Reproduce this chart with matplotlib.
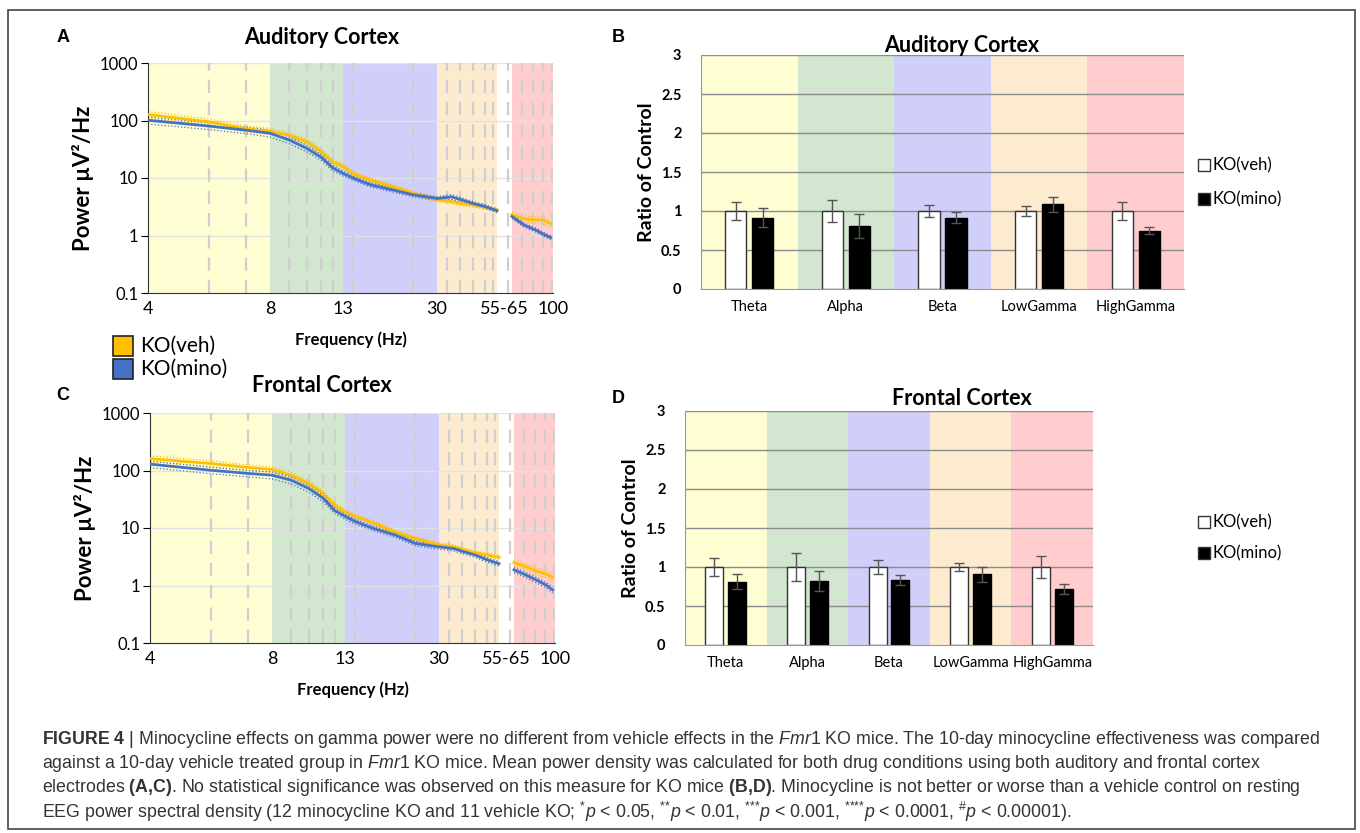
import numpy as np
import matplotlib
matplotlib.use("Agg")
import matplotlib.pyplot as plt
import matplotlib.font_manager as fm
from matplotlib.patches import Rectangle

# spectra (Hz -> power); NaN at 60 Hz = notch gap
freqs = [4, 6, 7.2, 8, 9.3, 10.5, 11.5, 12.3, 13, 14.8, 18, 22, 25.7, 30,
         36, 40, 45, 50, 55, 60, 65, 75, 85, 92, 98]
aud_veh = [127, 95, 72, 65, 56, 43, 29, 19, 16, 12, 9.2, 7.1, 5.4, 4.2,
           3.9, 3.6, 3.4, 3.1, 2.8, np.nan, 2.3, 1.95, 1.87, 1.85, 1.6]
aud_mino = [101, 80, 68, 60, 46, 33, 23, 15, 12, 10, 7.6, 6.2, 5.1, 4.4,
            4.7, 4.2, 3.6, 3.2, 2.7, np.nan, 2.14, 1.53, 1.25, 1.05, 0.92]
fro_veh = [161, 132, 113, 104, 83, 60, 40, 25, 19, 16, 12.4, 8.6, 6.6, 5.1,
           4.7, 4.2, 3.7, 3.4, 3.1, np.nan, 2.5, 2.14, 1.75, 1.6, 1.39]
fro_mino = [129, 101, 89, 83, 68, 49, 33, 20, 16, 13, 9.9, 7.6, 5.4, 4.7,
            4.4, 3.9, 3.4, 2.8, 2.4, np.nan, 1.87, 1.53, 1.22, 1.03, 0.84]
# relative SEM (dotted bounds)
aud_veh_sem = [0.13, 0.12, 0.12, 0.12, 0.12, 0.11, 0.1, 0.1, 0.1, 0.09, 0.08, 0.08, 0.08, 0.08,
               0.08, 0.08, 0.08, 0.07, 0.07, np.nan, 0.1, 0.12, 0.13, 0.13, 0.14]
aud_mino_sem = [0.14, 0.13, 0.13, 0.14, 0.14, 0.13, 0.12, 0.11, 0.1, 0.09, 0.08, 0.08, 0.08, 0.08,
                0.1, 0.09, 0.08, 0.08, 0.07, np.nan, 0.08, 0.08, 0.08, 0.08, 0.08]
fro_veh_sem = [0.12, 0.12, 0.11, 0.11, 0.12, 0.12, 0.11, 0.1, 0.1, 0.09, 0.09, 0.08, 0.08, 0.08,
               0.08, 0.08, 0.08, 0.08, 0.08, np.nan, 0.12, 0.12, 0.13, 0.14, 0.14]
fro_mino_sem = [0.13, 0.13, 0.13, 0.14, 0.14, 0.14, 0.13, 0.12, 0.11, 0.1, 0.09, 0.09, 0.09, 0.09,
                0.09, 0.09, 0.09, 0.09, 0.09, np.nan, 0.1, 0.1, 0.11, 0.11, 0.12]

freq_ticks = [4, 8, 13, 30, 60, 100]
freq_tick_labels = ["4", "8", "13", "30", "55-65", "100"]
freq_bands = [(4, 8), (8, 13), (13, 30), (30, 55), (65, 100)]
grid_freqs = [6, 7.2, 9.3, 10.5, 11.5, 12.3, 14.8, 25.7, 34.2, 39.6, 45, 50, 53.3,
              62.3, 73.5, 83, 91.5, 99.5]

# band ratios
bands = ["Theta", "Alpha", "Beta", "LowGamma", "HighGamma"]
aud_ratio_veh = [1.0, 1.0, 1.0, 1.0, 1.0]
aud_ratio_veh_err = [0.115, 0.14, 0.08, 0.06, 0.115]
aud_ratio_mino = [0.915, 0.81, 0.915, 1.085, 0.75]
aud_ratio_mino_err = [0.125, 0.15, 0.075, 0.1, 0.045]
fro_ratio_veh = [1.0, 1.0, 1.0, 1.0, 1.0]
fro_ratio_veh_err = [0.12, 0.175, 0.09, 0.055, 0.145]
fro_ratio_mino = [0.81, 0.825, 0.833, 0.906, 0.714]
fro_ratio_mino_err = [0.095, 0.13, 0.07, 0.095, 0.065]

band_colors = ["#fffdd2", "#d2e6d0", "#cfcff9", "#fdebcf", "#ffcdcd"]
c_veh = "#ffc000"
c_mino = "#4472c4"

names = {f.name for f in fm.fontManager.ttflist}
cap_font = "Liberation Sans Narrow" if "Liberation Sans Narrow" in names else "Liberation Sans"
cap_size = 12 if cap_font == "Liberation Sans Narrow" else 12.8
plt.rcParams["font.family"] = ["Lato", "DejaVu Sans"]
plt.rcParams["mathtext.fontset"] = "custom"
plt.rcParams["mathtext.rm"] = cap_font
plt.rcParams["mathtext.it"] = cap_font + ":italic"
plt.rcParams["mathtext.bf"] = cap_font + ":bold"

W, H = 1360, 833
fig = plt.figure(figsize=(13.6, 8.33), dpi=100)


def box(l, t, r, b):
    return [l / W, 1 - b / H, (r - l) / W, (b - t) / H]


def ftext(x, y, s, **kw):
    fig.text(x / W, 1 - y / H, s, **kw)


# piecewise frequency axis (Excel-style)
anchor_hz = [4, 8, 13, 30, 55, 65, 100]
anchor_pos = [0, 122, 195, 289, 349, 364, 405]
fwd = lambda f: np.interp(f, anchor_hz, anchor_pos)
inv = lambda p: np.interp(p, anchor_pos, anchor_hz)


def spectrum(ax, veh, veh_sem, mino, mino_sem):
    ax.set_xscale("function", functions=(fwd, inv))
    ax.set_yscale("log")
    ax.set_xlim(4, 100)
    ax.set_ylim(0.1, 1000)
    for (a, b), col in zip(freq_bands, band_colors):
        ax.axvspan(a, b, color=col, lw=0, zorder=0)
    for y in [1, 10, 100, 1000]:
        ax.axhline(y, color="#e2e2e2", lw=1, zorder=1)
    for g in grid_freqs:
        ax.axvline(g, color="#cfcfcf", lw=1.6, ls=(0, (6, 4)), zorder=1)
    f = np.array(freqs)
    for vals, sem, col in [(veh, veh_sem, c_veh), (mino, mino_sem, c_mino)]:
        v = np.array(vals)
        s = np.array(sem)
        ax.plot(f, v * (1 + s), color=col, lw=0.9, ls=":", zorder=2)
        ax.plot(f, v * (1 - s), color=col, lw=0.9, ls=":", zorder=2)
        ax.plot(f, v, color=col, lw=2, zorder=3)
    ax.set_xticks(freq_ticks)
    ax.set_xticklabels(freq_tick_labels)
    ax.minorticks_off()
    ax.set_yticks([0.1, 1, 10, 100, 1000])
    ax.set_yticklabels(["0.1", "1", "10", "100", "1000"])
    ax.tick_params(axis="x", length=0, labelsize=13, pad=6)
    ax.tick_params(axis="y", length=5, labelsize=12, pad=2)
    for s in ["top", "right"]:
        ax.spines[s].set_visible(False)
    ax.spines["left"].set_color("#333333")
    ax.spines["bottom"].set_color("#333333")
    ax.set_ylabel("Power µV²/Hz", fontsize=16, fontweight="bold", labelpad=4)
    ax.set_xlabel("Frequency (Hz)", fontsize=12, fontweight="bold", labelpad=10)


def ratio_bars(ax, veh, veh_err, mino, mino_err):
    x = np.arange(len(bands))
    for i, col in enumerate(band_colors):
        ax.axvspan(i - 0.5, i + 0.5, color=col, lw=0, zorder=0)
    for y in np.arange(0.5, 3.01, 0.5):
        ax.axhline(y, color="#8c8c8c", lw=1, zorder=1)
    ekw = dict(ecolor="#555555", elinewidth=1, capsize=3.5, capthick=1)
    ax.bar(x - 0.14, veh, 0.22, color="white", edgecolor="#333333", lw=1,
           yerr=veh_err, error_kw=ekw, zorder=2)
    ax.bar(x + 0.14, mino, 0.22, color="black", edgecolor="black", lw=1,
           yerr=mino_err, error_kw=ekw, zorder=2)
    ax.set_xlim(-0.5, len(bands) - 0.5)
    ax.set_ylim(0, 3)
    ax.set_xticks(x)
    ax.set_xticklabels(bands, fontsize=10.5)
    ax.set_yticks(np.arange(0, 3.01, 0.5))
    ax.set_yticklabels(["0", "0.5", "1", "1.5", "2", "2.5", "3"], fontsize=10.5, fontweight="bold")
    ax.tick_params(length=0, pad=8)
    ax.tick_params(axis="y", pad=14)
    for s in ["top", "right"]:
        ax.spines[s].set_visible(False)
    ax.spines["left"].set_color("#999999")
    ax.spines["bottom"].set_color("#999999")
    ax.set_ylabel("Ratio of Control", fontsize=14, fontweight="bold", labelpad=4)


axA = fig.add_axes(box(148, 63, 553, 293))
spectrum(axA, aud_veh, aud_veh_sem, aud_mino, aud_mino_sem)
axC = fig.add_axes(box(150, 413, 555, 643))
spectrum(axC, fro_veh, fro_veh_sem, fro_mino, fro_mino_sem)
axB = fig.add_axes(box(701, 55, 1184, 289))
ratio_bars(axB, aud_ratio_veh, aud_ratio_veh_err, aud_ratio_mino, aud_ratio_mino_err)
axD = fig.add_axes(box(685, 411, 1093, 645))
ratio_bars(axD, fro_ratio_veh, fro_ratio_veh_err, fro_ratio_mino, fro_ratio_mino_err)

# titles and panel letters
ftext(322, 37, "Auditory Cortex", fontsize=15.5, fontweight="bold", ha="center", va="center")
ftext(322, 385, "Frontal Cortex", fontsize=15.5, fontweight="bold", ha="center", va="center")
ftext(962, 45, "Auditory Cortex", fontsize=15.5, fontweight="bold", ha="center", va="center")
ftext(962, 398, "Frontal Cortex", fontsize=15.5, fontweight="bold", ha="center", va="center")
for x, y, s in [(63, 37, "A"), (63, 396, "C"), (618, 37, "B"), (618, 398, "D")]:
    ftext(x, y, s, fontsize=13, fontweight="bold", ha="center", va="center",
          family=["Liberation Sans", "DejaVu Sans"])

# legend between A and C
for y, col, lab in [(346, c_veh, "KO(veh)"), (369, c_mino, "KO(mino)")]:
    fig.patches.append(Rectangle(((113) / W, 1 - (y + 10) / H), 20 / W, 20 / H,
                                 facecolor=col, edgecolor="#222222", lw=1.2,
                                 transform=fig.transFigure, figure=fig))
    ftext(140, y, lab, fontsize=15, ha="left", va="center")

# legends of bar panels
for ys in [(165, 199), (522, 553)]:
    for y, col, lab in zip(ys, ["white", "black"], ["KO(veh)", "KO(mino)"]):
        fig.patches.append(Rectangle((1198 / W, 1 - (y + 6) / H), 12 / W, 12 / H,
                                     facecolor=col, edgecolor="#333333", lw=1,
                                     transform=fig.transFigure, figure=fig))
        ftext(1212, y, lab, fontsize=12, ha="left", va="center")

# outer frame
fig.patches.append(Rectangle((8 / W, 1 - 829 / H), (1355 - 8) / W, (829 - 10) / H,
                             facecolor="none", edgecolor="#444444", lw=1.2,
                             transform=fig.transFigure, figure=fig))

# caption
cap = [
    r"$\mathbf{FIGURE\ 4}$ | Minocycline effects on gamma power were no different from vehicle effects in the $\mathit{Fmr}$$\mathit{1}$ KO mice. The 10-day minocycline effectiveness was compared",
    r"against a 10-day vehicle treated group in $\mathit{Fmr}$$\mathit{1}$ KO mice. Mean power density was calculated for both drug conditions using both auditory and frontal cortex",
    r"electrodes $\mathbf{(A{,}C)}$. No statistical significance was observed on this measure for KO mice $\mathbf{(B{,}D)}$. Minocycline is not better or worse than a vehicle control on resting",
    r"EEG power spectral density (12 minocycline KO and 11 vehicle KO; $^{{*}}\mathit{p}$ < 0.05, $^{{*}{*}}\mathit{p}$ < 0.01, $^{{*}{*}{*}}\mathit{p}$ < 0.001, $^{{*}{*}{*}{*}}\mathit{p}$ < 0.0001, $^{\#}\mathit{p}$ < 0.00001).",
]
for i, line in enumerate(cap):
    ftext(42, 740 + 24 * i, line, fontsize=cap_size, ha="left", va="center",
          family=[cap_font, "DejaVu Sans"], color="#333333")

fig.savefig("out.png", dpi=100)
